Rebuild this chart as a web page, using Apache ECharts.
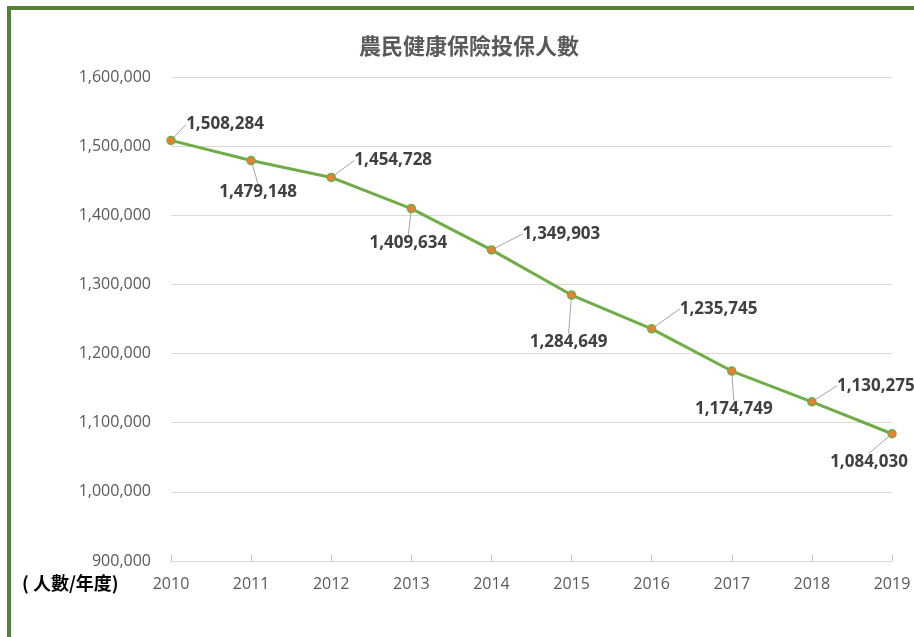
<!DOCTYPE html>
<html>
<head>
<meta charset="utf-8">
<script src="https://cdn.jsdelivr.net/npm/echarts@6/dist/echarts.min.js"></script>
<style>
html,body{margin:0;padding:0;background:#fff;}
#main{width:914px;height:637px;}
</style>
</head>
<body>
<div id="main"></div>
<script>
var titleText = '農民健康保險投保人數';
var unitText = '( 人數/年度)';
var years = ['2010','2011','2012','2013','2014','2015','2016','2017','2018','2019'];
var members = [1508284,1479148,1454728,1409634,1349903,1284649,1235745,1174749,1130275,1084030];

// label placement offsets (style, relative to each point)
var labelOffsets = [[54,-16],[7,32],[62,-17],[-3,35],[70,-16],[-3,47],[67,-20],[2,38],[64,-16],[-23,28]];

var chart = echarts.init(document.getElementById('main'));
var fmt = function(v){ return Number(v).toLocaleString('en-US'); };
chart.setOption({
  backgroundColor:'#ffffff',
  animation:false,
  title:{
    text:titleText, left:354, top:30,
    textStyle:{fontFamily:'Noto Sans CJK TC', fontSize:22, fontWeight:'bold', color:'#595959'}
  },
  grid:{left:171, right:22, top:77, bottom:76, containLabel:false},
  xAxis:{
    type:'category', data:years, boundaryGap:false,
    axisLine:{lineStyle:{color:'#D9D9D9', width:1}},
    axisTick:{show:true, inside:true, length:6, lineStyle:{color:'#BFBFBF'}},
    axisLabel:{color:'#595959', fontFamily:'Open Sans', fontSize:16, margin:15}
  },
  yAxis:{
    type:'value', min:900000, max:1600000, interval:100000,
    axisLine:{show:false}, axisTick:{show:false},
    splitLine:{lineStyle:{color:'#D9D9D9', width:1}},
    axisLabel:{color:'#595959', fontFamily:'Open Sans', fontSize:16, margin:20, formatter:fmt}
  },
  series:[{
    type:'line', data:members,
    lineStyle:{color:'#70AD47', width:3},
    symbol:'circle', symbolSize:8,
    itemStyle:{color:'#ED7D31', borderColor:'#70AD47', borderWidth:1.5},
    label:{show:true, position:'inside', formatter:function(p){return fmt(p.value);},
      fontFamily:'Open Sans', fontSize:17, fontWeight:'bold', color:'#404040'},
    labelLine:{show:true, lineStyle:{color:'#A6A6A6', width:1}},
    labelLayout:function(p){ var o = labelOffsets[p.dataIndex]; return {dx:o[0], dy:o[1]}; }
  }],
  graphic:[
    {type:'rect', shape:{x:9, y:8, width:1000, height:1000}, style:{fill:null, stroke:'#548235', lineWidth:4}, silent:true},
    {type:'text', left:22, top:574, style:{text:unitText, fontFamily:'Noto Sans CJK TC', fontSize:18, fontWeight:'bold', fill:'#000000'}}
  ]
});
</script>
</body>
</html>
